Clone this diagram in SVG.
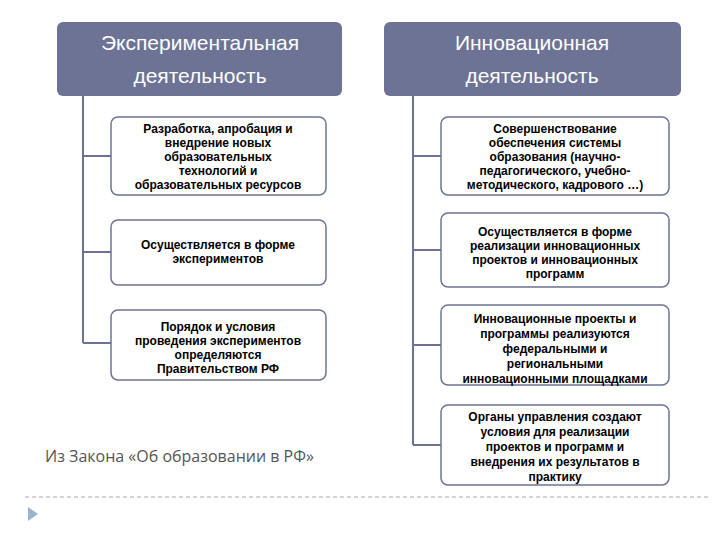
<svg xmlns="http://www.w3.org/2000/svg" width="720" height="540" viewBox="0 0 720 540">
<style>
.hd{fill:#6c7394}
.ht{fill:#fff;font-family:"Liberation Sans",Arial,sans-serif;font-size:21px;text-anchor:middle}
.bx{fill:#fff;stroke:#6c7394;stroke-width:1.5}
.bt{fill:#000;font-family:"Liberation Sans",Arial,sans-serif;font-size:12px;font-weight:bold;text-anchor:middle}
.ln{stroke:#6c7394;stroke-width:2;fill:none}
</style>
<rect width="720" height="540" fill="#fff"/>
<g id="h1"><rect class="hd" x="57" y="22" width="285" height="74" rx="6"/><text class="ht" x="200" y="50">Экспериментальная</text><text class="ht" x="200" y="83">деятельность</text></g>
<g id="h2"><rect class="hd" x="384" y="22" width="297" height="74" rx="6"/><text class="ht" x="532" y="50">Инновационная</text><text class="ht" x="532" y="83">деятельность</text></g>
<g id="connectors">
<path class="ln" d="M83 96V343M83 156H111M83 252H111M83 343H111"/>
<path class="ln" d="M413 96V445M413 156H441M413 250H441M413 345H441M413 445H441"/>
</g>
<g id="l1"><rect class="bx" x="111" y="117" width="215" height="78" rx="7"/><text class="bt" x="218" y="133">Разработка, апробация и</text><text class="bt" x="218" y="147">внедрение новых</text><text class="bt" x="218" y="161">образовательных</text><text class="bt" x="218" y="175">технологий и</text><text class="bt" x="218" y="189">образовательных ресурсов</text></g>
<g id="l2"><rect class="bx" x="111" y="220" width="215" height="65" rx="7"/><text class="bt" x="218" y="249">Осуществляется в форме</text><text class="bt" x="218" y="263">экспериментов</text></g>
<g id="l3"><rect class="bx" x="111" y="310" width="215" height="70" rx="7"/><text class="bt" x="218" y="331">Порядок и условия</text><text class="bt" x="218" y="345">проведения экспериментов</text><text class="bt" x="218" y="359">определяются</text><text class="bt" x="218" y="373">Правительством РФ</text></g>
<g id="r1"><rect class="bx" x="441" y="117" width="228" height="78" rx="7"/><text class="bt" x="555" y="133">Совершенствование</text><text class="bt" x="555" y="147">обеспечения системы</text><text class="bt" x="555" y="161">образования (научно-</text><text class="bt" x="555" y="175">педагогического, учебно-</text><text class="bt" x="555" y="189">методического, кадрового …)</text></g>
<g id="r2"><rect class="bx" x="441" y="213" width="228" height="74" rx="7"/><text class="bt" x="555" y="236">Осуществляется в форме</text><text class="bt" x="555" y="250">реализации инновационных</text><text class="bt" x="555" y="264">проектов и инновационных</text><text class="bt" x="555" y="278">программ</text></g>
<g id="r3"><rect class="bx" x="441" y="305" width="228" height="80" rx="7"/><text class="bt" x="555" y="323">Инновационные проекты и</text><text class="bt" x="555" y="338">программы реализуются</text><text class="bt" x="555" y="353">федеральными и</text><text class="bt" x="555" y="368">региональными</text><text class="bt" x="555" y="383">инновационными площадками</text></g>
<g id="r4"><rect class="bx" x="441" y="405" width="228" height="80" rx="7"/><text class="bt" x="555" y="421">Органы управления  создают</text><text class="bt" x="555" y="436">условия для реализации</text><text class="bt" x="555" y="451">проектов и программ и</text><text class="bt" x="555" y="466">внедрения их результатов в</text><text class="bt" x="555" y="481">практику</text></g>
<text x="45" y="462" font-family="'Open Sans',sans-serif" font-size="16" fill="#555">Из Закона «Об образовании в РФ»</text>
<line x1="25" y1="497" x2="710" y2="497" stroke="#aaa" stroke-dasharray="4,3"/>
<polygon points="28,507 38,514 28,521" fill="#9db3cf"/>
</svg>
